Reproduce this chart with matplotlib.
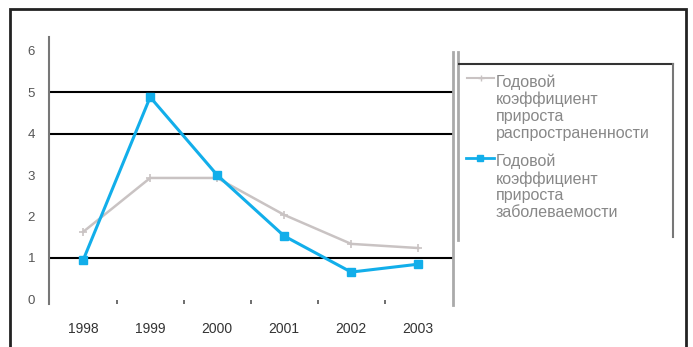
import matplotlib.pyplot as plt
from matplotlib.lines import Line2D
from matplotlib.patches import Rectangle

plt.rcParams['font.family'] = ['Liberation Sans', 'DejaVu Sans']

years = ['1998', '1999', '2000', '2001', '2002', '2003']
prevalence_growth = [1.63, 2.93, 2.93, 2.04, 1.34, 1.24]
incidence_growth = [0.95, 4.88, 3.0, 1.53, 0.66, 0.85]
grid_levels = [1, 4, 5]
y_ticks = [0, 1, 2, 3, 4, 5, 6]
series_labels = ['Годовой\nкоэффициент\nприроста\nраспространенности',
                 'Годовой\nкоэффициент\nприроста\nзаболеваемости']

W, H = 693, 347
fig = plt.figure(figsize=(W / 100, H / 100), dpi=100)


def fx(px):
    return px / W


def fy(py):
    return 1 - py / H


ax = fig.add_axes([fx(49), fy(304), fx(453) - fx(49), fy(37) - fy(304)])
x = list(range(len(years)))

for lvl in grid_levels:
    ax.axhline(lvl, color='black', lw=1.5, zorder=1)

gray = '#c9c3c3'
blue = '#12aeea'
ax.plot(x, prevalence_growth, color=gray, lw=1.8, marker='+', ms=6, mew=1.2, zorder=2)
ax.plot(x, incidence_growth, color=blue, lw=2.2, marker='s', ms=6, zorder=3)

ax.set_xlim(-0.51, 5.52)
ax.set_ylim(-0.11, 6.33)

for s in ['top', 'bottom']:
    ax.spines[s].set_visible(False)
ax.spines['left'].set_color('#777777')
ax.spines['left'].set_linewidth(1.5)
ax.spines['right'].set_color('#aaaaaa')
ax.spines['right'].set_linewidth(2)
ax.spines['right'].set_bounds(-0.13, 5.96)

ax.set_yticks(y_ticks)
ax.set_yticklabels([str(v) for v in y_ticks])
ax.tick_params(axis='y', length=0, pad=10, labelsize=9.5, labelcolor='#555555')

ax.set_xticks(x)
ax.set_xticklabels(years)
ax.set_xticks([i + 0.5 for i in x[:-1]], minor=True)
ax.tick_params(axis='x', which='major', length=0, pad=13, labelsize=10, labelcolor='#333333')
ax.tick_params(axis='x', which='minor', length=3, width=1.2, direction='in', color='#555555')

# outer frame, open at the bottom
fig.patches.append(Rectangle((fx(10), -0.1), fx(686) - fx(10), fy(9) + 0.1,
                             transform=fig.transFigure, fill=False,
                             edgecolor='#222222', lw=2))

# legend box
fig.add_artist(Line2D([fx(458), fx(458)], [fy(52), fy(240)], color='#aaaaaa', lw=2))
fig.add_artist(Line2D([fx(459), fx(673)], [fy(64), fy(64)], color='#333333', lw=1.5))
fig.add_artist(Line2D([fx(673), fx(673)], [fy(64), fy(237)], color='#777777', lw=1.5))

# legend entries: short line with a marker in the middle, then the label
fig.add_artist(Line2D([fx(467), fx(480.5), fx(494)], [fy(78)] * 3, color=gray, lw=1.5,
                      marker='+', ms=5, markevery=[1]))
fig.add_artist(Line2D([fx(466), fx(480), fx(494)], [fy(158)] * 3, color=blue, lw=2,
                      marker='s', ms=4, markevery=[1]))
fig.text(fx(496), fy(107.5), series_labels[0], ha='left', va='center',
         fontsize=11.5, color='#888888', linespacing=1.15)
fig.text(fx(496), fy(187), series_labels[1], ha='left', va='center',
         fontsize=11.5, color='#888888', linespacing=1.15)

fig.savefig('out.png', dpi=100)
